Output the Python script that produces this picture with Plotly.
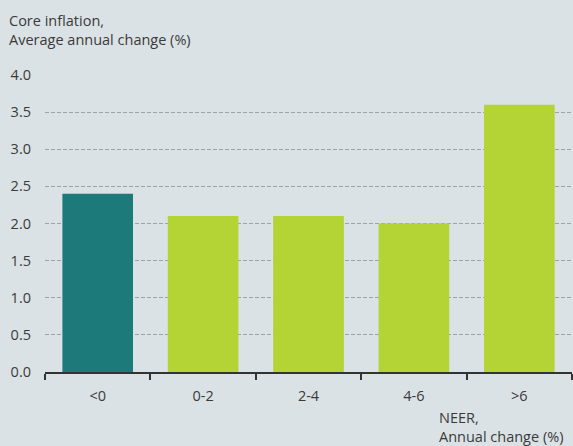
import plotly.graph_objects as go

categories = ["<0", "0-2", "2-4", "4-6", ">6"]
values = [2.4, 2.1, 2.1, 2.0, 3.6]
colors = ["#1c7a7a", "#b4d334", "#b4d334", "#b4d334", "#b4d334"]
y_ticks = [0.0, 0.5, 1.0, 1.5, 2.0, 2.5, 3.0, 3.5, 4.0]
y_title = "Core inflation,<br>Average annual change (%)"
x_title = "NEER,<br>Annual change (%)"

bg = "#dae2e5"
font = "Open Sans, sans-serif"
fc = "#3a3a3a"
fs = 14.5

fig = go.Figure(go.Bar(x=categories, y=values, marker=dict(color=colors, line=dict(width=0)),
                       hoverinfo="skip"))

fig.update_layout(
    width=573, height=446,
    paper_bgcolor=bg, plot_bgcolor=bg,
    margin=dict(l=45, r=1, t=75, b=74),
    bargap=0.33,
    showlegend=False,
    font=dict(family=font, size=fs, color=fc),
    xaxis=dict(
        type="category", tickson="boundaries", ticks="outside", ticklen=6,
        tickcolor="#333", tickwidth=1.5,
        showline=True, linecolor="#333", linewidth=1.5,
        showgrid=False, ticklabelstandoff=10,
        tickfont=dict(size=fs, color=fc, family=font),
    ),
    yaxis=dict(
        range=[0, 4.0], tickvals=y_ticks, tickformat=".1f",
        showgrid=True, gridcolor="#9ea3a5", griddash="4px,2px", gridwidth=1,
        zeroline=False, showline=False, ticks="", ticklabelstandoff=13,
        tickfont=dict(size=fs, color=fc, family=font),
    ),
    annotations=[
        dict(text=y_title, xref="paper", yref="paper", x=-38/527, y=1 + 45/297,
             xanchor="left", yanchor="middle", align="left", showarrow=False,
             font=dict(size=fs, color=fc, family=font)),
        dict(text=x_title, xref="paper", yref="paper", x=(437-45)/527, y=-55/297,
             xanchor="left", yanchor="middle", align="left", showarrow=False,
             font=dict(size=fs, color=fc, family=font)),
    ],
)

fig.write_html("out.html", config={"displayModeBar": False},
               post_script="document.body.style.margin='0';document.body.style.overflow='hidden';")
